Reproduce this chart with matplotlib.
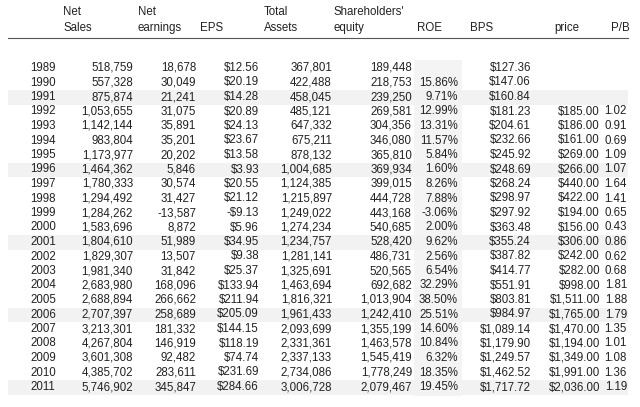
import numpy as np
import matplotlib.pyplot as plt
from matplotlib.patches import Rectangle

years = list(range(1989, 2012))
net_sales = [518759, 557328, 875874, 1053655, 1142144, 983804, 1173977, 1464362, 1780333,
             1294492, 1284262, 1583696, 1804610, 1829307, 1981340, 2683980, 2688894, 2707397,
             3213301, 4267804, 3601308, 4385702, 5746902]
net_earnings = [18678, 30049, 21241, 31075, 35891, 35201, 20202, 5846, 30574, 31427, -13587,
                8872, 51989, 13507, 31842, 168096, 266662, 258689, 181332, 146919, 92482,
                283611, 345847]
eps = [12.56, 20.19, 14.28, 20.89, 24.13, 23.67, 13.58, 3.93, 20.55, 21.12, -9.13, 5.96, 34.95,
       9.38, 25.37, 133.94, 211.94, 205.09, 144.15, 118.19, 74.74, 231.69, 284.66]
total_assets = [367801, 422488, 458045, 485121, 647332, 675211, 878132, 1004685, 1124385,
                1215897, 1249022, 1274234, 1234757, 1281141, 1325691, 1463694, 1816321,
                1961433, 2093699, 2331361, 2337133, 2734086, 3006728]
equity = [189448, 218753, 239250, 269581, 304356, 346080, 365810, 369934, 399015, 444728,
          443168, 540685, 528420, 486731, 520565, 692682, 1013904, 1242410, 1355199, 1463578,
          1545419, 1778249, 2079467]
roe = [None, 15.86, 9.71, 12.99, 13.31, 11.57, 5.84, 1.60, 8.26, 7.88, -3.06, 2.00, 9.62, 2.56,
       6.54, 32.29, 38.50, 25.51, 14.60, 10.84, 6.32, 18.35, 19.45]
bps = [127.36, 147.06, 160.84, 181.23, 204.61, 232.66, 245.92, 248.69, 268.24, 298.97, 297.92,
       363.48, 355.24, 387.82, 414.77, 551.91, 803.81, 984.97, 1089.14, 1179.90, 1249.57,
       1462.52, 1717.72]
price = [None, None, None, 185, 186, 161, 269, 266, 440, 422, 194, 156, 306, 242, 282, 998,
         1511, 1765, 1470, 1194, 1349, 1991, 2036]
pb = [None, None, None, 1.02, 0.91, 0.69, 1.09, 1.07, 1.64, 1.41, 0.65, 0.43, 0.86, 0.62, 0.68,
      1.81, 1.88, 1.79, 1.35, 1.01, 1.08, 1.36, 1.19]

fig = plt.figure(figsize=(6.4, 4.07), dpi=100)
ax = fig.add_axes([0, 0, 1, 1])
ax.set_xlim(0, 640)
ax.set_ylim(407, 0)
ax.axis('off')
plt.rcParams['font.family'] = 'Liberation Sans'
fs = 8.3
col = '#222222'

def money(v):
    if v is None:
        return ''
    s = f"${abs(v):,.2f}"
    return '-' + s if v < 0 else s

y0, dy = 68, 14.5
# shaded ROE column and every 5th row
ax.add_patch(Rectangle((414, y0 - 8), 48, 23 * dy + 2, color='#f4f4f4', lw=0, zorder=0))
for i, yr in enumerate(years):
    if yr in (1991, 1996, 2001, 2006, 2011):
        ax.add_patch(Rectangle((8, y0 + i * dy - 7), 620, dy, color='#f2f2f2', lw=0, zorder=0))

heads = [(63, 'Net', 'Sales'), (138, 'Net', 'earnings'), (200, '', 'EPS'), (264, 'Total', 'Assets'),
         (333, "Shareholders'", 'equity'), (417, '', 'ROE'), (470, '', 'BPS'), (554, '', 'price'),
         (611, '', 'P/B')]
for x, a, b in heads:
    ax.text(x, 12, a, fontsize=fs, color=col, va='center')
    ax.text(x, 28, b, fontsize=fs, color=col, va='center')
ax.plot([8, 628], [38, 38], color='#555555', lw=0.8)

for i, yr in enumerate(years):
    y = y0 + i * dy
    cells = [
        (133, f"{net_sales[i]:,}"),
        (196, f"{net_earnings[i]:,}"),
        (259, money(eps[i])),
        (332, f"{total_assets[i]:,}"),
        (412, f"{equity[i]:,}"),
        (458, '' if roe[i] is None else f"{roe[i]:.2f}%"),
        (531, money(bps[i])),
        (600, money(price[i])),
        (627, '' if pb[i] is None else f"{pb[i]:.2f}"),
    ]
    ax.text(30, y, str(yr), fontsize=fs, color=col, va='center')
    for x, s in cells:
        ax.text(x, y, s, fontsize=fs, color=col, va='center', ha='right')

fig.savefig('out.png', dpi=100)
